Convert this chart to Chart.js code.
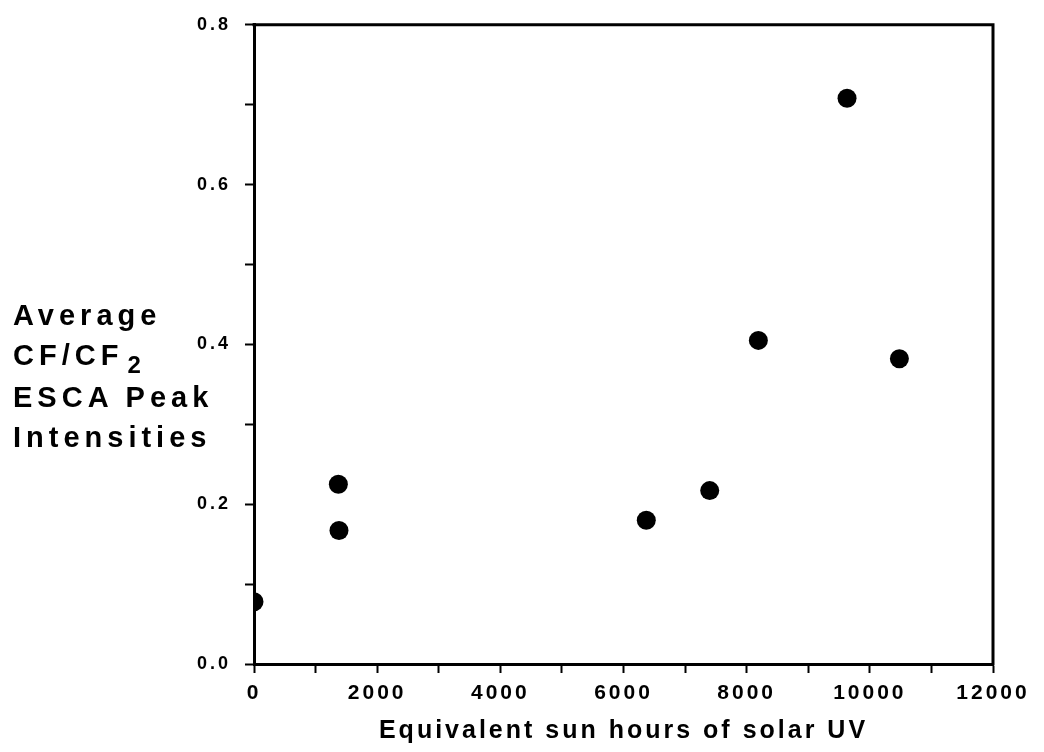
<!DOCTYPE html>
<html>
<head>
<meta charset="utf-8">
<script src="https://cdn.jsdelivr.net/npm/chart.js@4.4.1/dist/chart.umd.min.js"></script>
<style>
  html, body { margin: 0; padding: 0; background: #fff; }
  #wrap { position: relative; width: 1044px; height: 752px; }
  #ytitle {
    position: absolute; left: 13px; top: 295px;
    font-family: "Liberation Sans", Arial, sans-serif; font-weight: bold;
    font-size: 29px; line-height: 40px; letter-spacing: 5px; color: #000;
    white-space: nowrap;
  }
  #ytitle .sub { position: relative; top: 8px; font-size: 24px; margin-left: 4px; }
</style>
</head>
<body>
<div id="wrap">
  <canvas id="c" width="1044" height="752"></canvas>
  <div id="ytitle">Average<br>CF/CF<span class="sub">2</span><br>ESCA Peak<br>Intensities</div>
</div>
<script>
// sun hours vs average CF/CF2 peak ratio
const sunHours = [0, 1370, 1380, 6370, 7400, 8190, 9630, 10480];
const cfRatio = [0.078, 0.225, 0.167, 0.180, 0.217, 0.405, 0.708, 0.382];
const xTitle = "Equivalent sun hours of solar UV";

const FONT = "'Liberation Sans', Arial, sans-serif";

const spacing = {
    id: 'spacing',
    beforeUpdate(chart){ chart.ctx.letterSpacing = '3px'; },
    beforeDraw(chart){ chart.ctx.letterSpacing = '3px'; }
};

// top + right sides of the box
const frame = {
    id: 'frame',
    afterDraw(chart){
        const {ctx, chartArea: a} = chart;
        ctx.save();
        ctx.strokeStyle = '#000';
        ctx.lineWidth = 3;
        ctx.beginPath();
        ctx.moveTo(a.left - 1.5, a.top);
        ctx.lineTo(a.right, a.top);
        ctx.lineTo(a.right, a.bottom + 1.5);
        ctx.stroke();
        ctx.restore();
    }
};

const data = sunHours.map((x, i) => ({x, y: cfRatio[i]}));

new Chart(document.getElementById('c'), {
    type: 'scatter',
    data: {
        datasets: [{
            data,
            pointRadius: 9.5,
            pointHoverRadius: 9.5,
            backgroundColor: '#000',
            borderColor: '#000',
            borderWidth: 0
        }]
    },
    options: {
        responsive: false,
        animation: false,
        layout: { padding: { top: 23, right: 51, left: 0, bottom: 0 } },
        plugins: { legend: { display: false }, tooltip: { enabled: false } },
        scales: {
            x: {
                type: 'linear',
                min: 0, max: 12000,
                afterFit(s){ s.height = 88; },
                border: { display: true, color: '#000', width: 3 },
                grid: { drawOnChartArea: false, drawTicks: true, tickLength: 9, tickColor: '#000', tickWidth: 2 },
                ticks: {
                    stepSize: 1000, autoSkip: false, maxRotation: 0,
                    padding: 8, color: '#000',
                    font: { family: FONT, size: 21, weight: 'bold' },
                    callback: v => v % 2000 === 0 ? String(v) : ''
                },
                title: {
                    display: true, text: xTitle, color: '#000',
                    font: { family: FONT, size: 25, weight: 'bold' },
                    padding: { top: 0, bottom: 6 }
                }
            },
            y: {
                type: 'linear',
                min: 0, max: 0.8,
                afterFit(s){ s.width = 254; },
                border: { display: true, color: '#000', width: 3 },
                grid: { drawOnChartArea: false, drawTicks: true, tickLength: 9, tickColor: '#000', tickWidth: 2 },
                ticks: {
                    stepSize: 0.1, autoSkip: false, padding: 14, color: '#000',
                    font: { family: FONT, size: 18, weight: 'bold' },
                    callback: v => Math.round(v * 10) % 2 === 0 ? v.toFixed(1) : ''
                }
            }
        }
    },
    plugins: [spacing, frame]
});
</script>
</body>
</html>
